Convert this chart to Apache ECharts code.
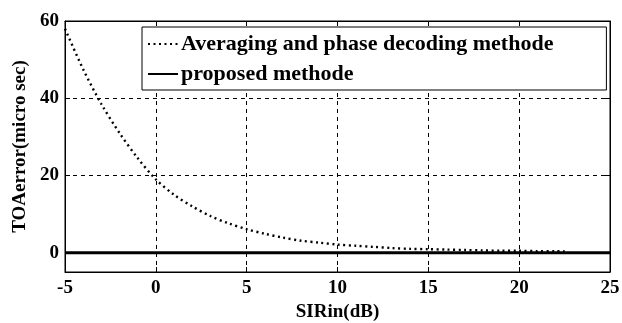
<!DOCTYPE html>
<html>
<head>
<meta charset="utf-8">
<script src="https://cdn.jsdelivr.net/npm/echarts@6/dist/echarts.min.js"></script>
<style>
  html, body { margin: 0; padding: 0; background: #fff; }
  #chart { width: 622px; height: 323px; }
</style>
</head>
<body>
<div id="chart"></div>
<script>
// SIR input values (dB) and the TOA error of each method (micro seconds)
const sirIn = [-5, -4, -3, -2, -1, 0, 1, 2, 3, 4, 5, 6, 7, 8, 9, 10, 11, 12, 13, 14, 15, 16, 17, 18, 19, 20, 21, 22, 22.5];
const averagingError = [58, 47.5, 38.5, 31, 24.5, 19, 15, 12, 9.5, 7.6, 6.1, 4.9, 3.9, 3.1, 2.6, 2.1, 1.8, 1.5, 1.2, 1.0, 0.9, 0.8, 0.7, 0.6, 0.5, 0.5, 0.4, 0.4, 0.4];
const proposedSir = [-5, 25];
const proposedError = [0, 0];
const xTicks = [-5, 0, 5, 10, 15, 20, 25];
const yTicks = [0, 20, 40, 60];
const yGridValues = [20, 40];

const seriesNames = ['Averaging and phase decoding methode', 'proposed methode'];

const serif = '"Liberation Serif", "Times New Roman", serif';
const labelStyle = { fontFamily: serif, fontWeight: 'bold', fontSize: 19, color: '#000' };

const chart = echarts.init(document.getElementById('chart'), null, { renderer: 'canvas' });

const yAxisBase = {
  type: 'value',
  min: -5,
  max: 60,
  interval: 5,
  axisLine: { show: true, onZero: false, lineStyle: { color: '#000', width: 1 } },
  axisTick: { show: true, inside: true, length: 5, customValues: yTicks, lineStyle: { color: '#000' } },
  splitLine: { show: false }
};

chart.setOption({
  animation: false,
  backgroundColor: '#fff',
  grid: {
    left: 65, right: 12, top: 21, bottom: 51,
    outerBoundsMode: 'none',
    containLabel: false,
    show: true, borderColor: '#000', borderWidth: 1, backgroundColor: 'transparent'
  },
  legend: {
    left: 142,
    top: 27,
    orient: 'vertical',
    itemGap: 8,
    itemWidth: 30,
    itemHeight: 14,
    padding: [6, 53, 5, 5],
    backgroundColor: '#fff',
    borderColor: '#000',
    borderWidth: 1,
    borderRadius: 0,
    itemStyle: { opacity: 0 },
    textStyle: { fontFamily: serif, fontWeight: 'bold', fontSize: 22, color: '#000', padding: [0, 0, 0, -2] },
    data: seriesNames
  },
  xAxis: [{
    type: 'value',
    min: -5,
    max: 25,
    interval: 5,
    name: 'SIRin(dB)',
    nameLocation: 'middle',
    nameGap: 27,
    nameTextStyle: labelStyle,
    axisLine: { show: true, onZero: false, lineStyle: { color: '#000', width: 1 } },
    axisTick: { show: true, inside: true, length: 5, lineStyle: { color: '#000' } },
    axisLabel: Object.assign({ margin: 7 }, labelStyle),
    splitLine: { show: true, lineStyle: { color: '#000', type: [4, 4], width: 1 } }
  }, {
    type: 'value',
    position: 'top',
    min: -5,
    max: 25,
    interval: 5,
    axisLine: { show: true, onZero: false, lineStyle: { color: '#000' } },
    axisTick: { show: true, inside: true, length: 5, lineStyle: { color: '#000' } },
    axisLabel: { show: false },
    splitLine: { show: false }
  }],
  yAxis: [Object.assign({}, yAxisBase, {
    name: 'TOAerror(micro sec)',
    nameLocation: 'middle',
    nameGap: 33,
    nameTextStyle: labelStyle,
    axisLabel: Object.assign({ margin: 6, customValues: yTicks }, labelStyle)
  }), Object.assign({}, yAxisBase, {
    position: 'right',
    axisLabel: { show: false }
  })],
  series: [{
    name: seriesNames[0],
    type: 'line',
    data: sirIn.map((x, i) => [x, averagingError[i]]),
    showSymbol: false,
    symbol: 'none',
    smooth: 0.3,
    lineStyle: { color: '#000', width: 2.4, type: [2, 3.5] },
    itemStyle: { color: '#000' },
    z: 3
  }, {
    name: seriesNames[1],
    type: 'line',
    data: proposedSir.map((x, i) => [x, proposedError[i]]),
    showSymbol: false,
    symbol: 'none',
    lineStyle: { color: '#000', width: 3, type: 'solid' },
    itemStyle: { color: '#000' },
    z: 4,
    markLine: {
      silent: true,
      symbol: 'none',
      label: { show: false },
      lineStyle: { color: '#000', type: [4, 4], width: 1 },
      data: yGridValues.map(v => ({ yAxis: v }))
    }
  }]
});
</script>
</body>
</html>
